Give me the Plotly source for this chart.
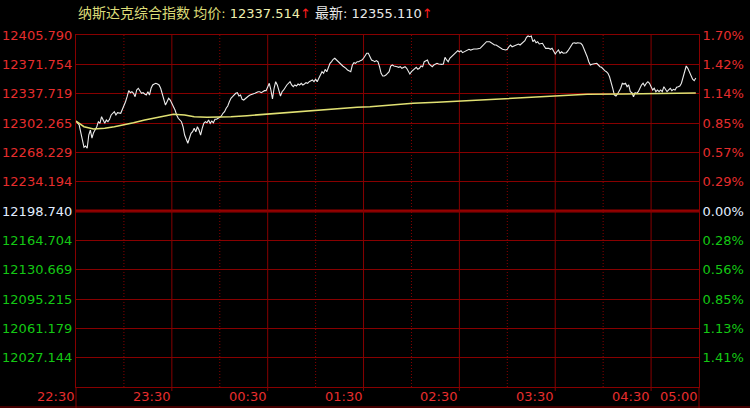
import numpy as np
import plotly.graph_objects as go

# ---------------- data ----------------
title_name = "纳斯达克综合指数"
prev_close = 12198.740
top_value = 12405.790
avg_last = 12337.514
price_last = 12355.110

time_labels = ["22:30", "23:30", "00:30", "01:30", "02:30", "03:30", "04:30", "05:00"]
time_label_pos = [0, 60, 120, 180, 240, 300, 360, 390]
hour_pos = [30, 90, 150, 210, 270, 330]

price_tick_labels = ["12405.790", "12371.754", "12337.719", "12302.265", "12268.229", "12234.194",
                     "12198.740", "12164.704", "12130.669", "12095.215", "12061.179", "12027.144", ""]
pct_tick_labels = ["1.70%", "1.42%", "1.14%", "0.85%", "0.57%", "0.29%",
                   "0.00%", "0.28%", "0.56%", "0.85%", "1.13%", "1.41%", ""]

# minutes since 22:30
minutes = [
    0, 2, 4, 5, 6, 7, 8, 9, 10, 11,
    13, 14, 15, 16, 18, 19, 20, 21, 22, 23,
    24, 25, 26, 28, 29, 30, 31, 32, 33, 34,
    35, 36, 37, 38, 39, 41, 42, 43, 44, 45,
    46, 47, 48, 49, 50, 51, 52, 53, 54, 55,
    56, 57, 58, 59, 60, 61, 62, 63, 64, 66,
    67, 68, 69, 70, 71, 72, 73, 74, 75, 76,
    77, 78, 79, 80, 81, 82, 83, 84, 85, 86,
    87, 88, 90, 91, 92, 93, 94, 95, 96, 97,
    98, 99, 100, 101, 102, 103, 104, 105, 106, 107,
    108, 109, 111, 112, 114, 115, 116, 117, 118, 119,
    120, 121, 122, 123, 124, 125, 126, 127, 128, 129,
    130, 132, 134, 135, 136, 137, 138, 139, 140, 141,
    142, 143, 144, 145, 146, 148, 149, 150, 151, 152,
    153, 154, 155, 156, 157, 158, 159, 160, 161, 162,
    163, 165, 167, 169, 170, 172, 173, 174, 175, 176,
    177, 178, 179, 180, 181, 182, 183, 184, 185, 186,
    187, 188, 189, 190, 191, 192, 193, 194, 196, 197,
    198, 199, 200, 201, 202, 203, 204, 205, 206, 207,
    208, 209, 210, 211, 212, 213, 214, 215, 216, 217,
    218, 220, 221, 222, 223, 224, 225, 226, 227, 228,
    229, 230, 231, 232, 233, 234, 235, 236, 237, 238,
    239, 240, 241, 242, 244, 245, 246, 247, 248, 249,
    251, 253, 254, 255, 256, 257, 259, 260, 261, 262,
    263, 264, 265, 266, 267, 269, 270, 271, 272, 273,
    274, 275, 276, 277, 278, 279, 280, 281, 282, 283,
    284, 285, 286, 287, 288, 289, 290, 292, 293, 294,
    296, 297, 298, 299, 300, 301, 302, 303, 304, 305,
    307, 308, 309, 310, 311, 312, 313, 314, 316, 317,
    318, 319, 320, 321, 322, 323, 324, 325, 326, 327,
    328, 329, 330, 331, 332, 333, 334, 335, 336, 337,
    338, 339, 341, 342, 343, 344, 345, 346, 347, 348,
    349, 350, 351, 352, 353, 354, 355, 356, 357, 358,
    359, 360, 361, 362, 363, 364, 365, 366, 367, 368,
    369, 370, 371, 372, 373, 374, 375, 376, 377, 378,
    379, 380, 381, 382, 383, 384, 385, 386, 387, 388,
]

price = [
    12304.6, 12299.9, 12282.3, 12273.7, 12275.2, 12272.5, 12288.1, 12294.0, 12284.6, 12290.9,
    12297.9, 12303.8, 12301.9, 12309.7, 12301.9, 12305.8, 12303.8, 12306.6, 12311.7, 12313.7,
    12315.6, 12311.7, 12314.4, 12313.7, 12317.6, 12321.4, 12327.3, 12333.2, 12340.3, 12337.9,
    12339.1, 12337.2, 12333.2, 12341.1, 12343.1, 12337.2, 12337.9, 12336.4, 12335.2, 12339.1,
    12335.2, 12343.1, 12347.0, 12348.1, 12349.0, 12348.1, 12347.0, 12343.1, 12337.2, 12331.3,
    12323.4, 12327.3, 12331.3, 12329.3, 12325.4, 12321.4, 12317.6, 12311.7, 12307.8, 12303.8,
    12297.9, 12288.1, 12282.3, 12278.4, 12284.3, 12290.1, 12292.0, 12296.0, 12292.0, 12297.9,
    12294.0, 12288.1, 12296.0, 12301.9, 12303.8, 12302.6, 12305.8, 12301.9, 12304.6, 12302.6,
    12306.6, 12306.6, 12309.0, 12310.5, 12313.7, 12315.6, 12319.6, 12322.3, 12327.3, 12331.3,
    12333.2, 12335.2, 12337.2, 12337.9, 12334.0, 12335.2, 12330.1, 12329.3, 12331.3, 12333.2,
    12334.0, 12335.2, 12337.2, 12337.2, 12339.1, 12339.1, 12337.9, 12339.1, 12340.3, 12340.3,
    12345.0, 12349.0, 12341.1, 12330.5, 12343.1, 12350.9, 12347.0, 12339.1, 12334.0, 12339.1,
    12341.1, 12347.0, 12350.9, 12347.0, 12345.0, 12347.0, 12345.8, 12348.1, 12347.0, 12349.0,
    12347.0, 12348.1, 12349.7, 12349.0, 12350.9, 12352.8, 12350.9, 12353.7, 12350.9, 12354.8,
    12358.7, 12362.6, 12360.7, 12365.4, 12362.6, 12368.5, 12372.5, 12374.4, 12377.2, 12378.4,
    12376.4, 12372.5, 12369.3, 12366.6, 12364.6, 12362.6, 12370.5, 12373.2, 12372.5, 12374.4,
    12374.4, 12375.6, 12376.4, 12378.4, 12382.3, 12384.3, 12384.3, 12380.3, 12376.4, 12375.6,
    12374.4, 12375.6, 12374.4, 12368.5, 12360.7, 12357.6, 12357.6, 12358.7, 12362.6, 12369.3,
    12370.5, 12369.3, 12369.3, 12368.5, 12367.8, 12368.5, 12366.6, 12367.8, 12368.5, 12366.6,
    12362.6, 12359.9, 12362.6, 12364.6, 12366.6, 12367.8, 12365.4, 12366.6, 12369.3, 12368.5,
    12374.4, 12376.4, 12371.7, 12370.5, 12368.5, 12370.5, 12371.3, 12372.5, 12371.7, 12371.3,
    12371.3, 12371.7, 12379.5, 12376.4, 12374.4, 12378.4, 12380.3, 12382.3, 12383.4, 12386.1,
    12387.3, 12386.1, 12387.3, 12385.0, 12387.3, 12388.1, 12389.0, 12388.1, 12389.0, 12389.3,
    12389.3, 12390.1, 12392.0, 12394.0, 12396.0, 12397.9, 12397.9, 12396.7, 12395.2, 12394.0,
    12394.0, 12392.8, 12392.0, 12390.1, 12389.0, 12388.1, 12389.0, 12392.0, 12394.0, 12392.0,
    12392.8, 12392.8, 12394.0, 12395.2, 12394.0, 12396.0, 12397.9, 12399.1, 12403.1, 12404.6,
    12403.8, 12404.6, 12397.9, 12399.9, 12396.7, 12397.9, 12395.2, 12396.0, 12392.8, 12390.1,
    12390.1, 12389.0, 12390.1, 12386.1, 12383.4, 12386.1, 12388.1, 12384.3, 12386.1, 12384.3,
    12385.0, 12387.3, 12390.1, 12392.8, 12396.0, 12396.7, 12396.0, 12396.7, 12396.0, 12394.0,
    12390.1, 12386.1, 12380.3, 12374.4, 12370.5, 12371.3, 12371.7, 12371.3, 12372.5, 12370.5,
    12368.5, 12367.8, 12365.4, 12363.8, 12362.6, 12360.7, 12356.7, 12350.9, 12343.1, 12335.2,
    12334.0, 12336.4, 12343.1, 12349.0, 12348.1, 12349.0, 12345.0, 12347.0, 12339.1, 12337.9,
    12333.2, 12337.9, 12337.2, 12339.1, 12343.1, 12347.0, 12349.0, 12345.8, 12349.0, 12350.9,
    12349.0, 12345.0, 12341.1, 12343.1, 12339.1, 12341.1, 12339.1, 12341.1, 12339.1, 12345.0,
    12341.1, 12339.1, 12341.1, 12343.1, 12340.3, 12341.9, 12341.1, 12344.3, 12345.0, 12345.8,
    12349.0, 12356.7, 12364.6, 12369.3, 12366.6, 12362.6, 12358.7, 12353.7, 12352.0, 12355.11,
]

avg_minutes = [0, 5, 11, 18, 24, 30, 36, 43, 49, 55, 61, 68, 74, 82, 91, 97, 107, 118, 128,
               157, 165, 176, 184, 197, 211, 226, 240, 253, 265, 278, 290, 305, 320, 343, 364, 380, 388]
avg_price = [12304.6, 12297.9, 12295.2, 12296.0, 12297.9, 12299.9, 12302.6, 12305.8, 12307.8,
             12310.5, 12312.5, 12311.7, 12309.7, 12309.0, 12309.0, 12309.7, 12310.9, 12312.5,
             12313.7, 12318.4, 12319.1, 12320.7, 12321.4, 12323.4, 12325.4, 12326.6, 12328.1,
             12329.0, 12330.1, 12331.7, 12333.2, 12334.4, 12336.0, 12336.4, 12336.7, 12337.2, 12337.514]

assert len(minutes) == len(price)
assert len(avg_minutes) == len(avg_price)

# ---------------- styling ----------------
FONT = "DejaVu Sans, Noto Sans CJK SC, sans-serif"
GRID = "rgb(135,0,0)"
RED = "rgb(230,45,45)"
GREEN = "rgb(20,200,20)"
WHITE = "rgb(225,238,255)"
PLOT_H = 352.0

bottom_value = 2 * prev_close - top_value
levels = list(np.linspace(top_value, bottom_value, 13))


def colored(labels):
    out = []
    for i, t in enumerate(labels):
        c = RED if i < 6 else (WHITE if i == 6 else GREEN)
        out.append(f'<span style="color:{c}">{t}</span>')
    return out


fig = go.Figure()
fig.add_trace(go.Scatter(x=avg_minutes, y=avg_price, mode="lines",
                         line=dict(color="rgb(225,225,115)", width=1.5),
                         hoverinfo="skip", yaxis="y2"))
fig.add_trace(go.Scatter(x=minutes, y=price, mode="lines",
                         line=dict(color="rgb(235,235,235)", width=1.1),
                         hoverinfo="skip"))

cjk = "font-family:Noto Sans CJK SC;font-size:14px"
title_text = (f'<span style="color:rgb(220,220,120);{cjk}">{title_name}&nbsp;均价</span>'
              f'<span style="color:rgb(220,220,120)">: </span>'
              f'<span style="color:rgb(240,240,175)">{avg_last:.3f}</span>'
              f'<span style="color:rgb(255,30,30)">↑</span> '
              f'<span style="color:rgb(232,232,232);{cjk}">最新</span>'
              f'<span style="color:rgb(232,232,232)">: {price_last:.3f}</span>'
              f'<span style="color:rgb(255,30,30)">↑</span>')

shapes = [
    # previous-close reference line
    dict(type="line", xref="paper", yref="y", x0=0, x1=1, y0=prev_close, y1=prev_close,
         line=dict(color="rgb(150,0,0)", width=3), layer="below"),
    # frame extensions below the plot and bottom frame line
    dict(type="line", xref="paper", yref="paper", x0=0, x1=0, y0=-21 / PLOT_H, y1=0,
         line=dict(color=GRID, width=1)),
    dict(type="line", xref="paper", yref="paper", x0=1, x1=1, y0=-21 / PLOT_H, y1=0,
         line=dict(color=GRID, width=1)),
    dict(type="line", xref="paper", yref="paper", x0=-76 / 623, x1=674 / 623,
         y0=-20 / PLOT_H, y1=-20 / PLOT_H, line=dict(color=GRID, width=1)),
]
for p in time_label_pos[1:-1]:
    shapes.append(dict(type="line", xref="x", yref="paper", x0=p, x1=p, y0=-4 / PLOT_H, y1=1,
                       line=dict(color=GRID, width=1), layer="below"))
for p in hour_pos:
    shapes.append(dict(type="line", xref="x", yref="paper", x0=p, x1=p, y0=0, y1=1,
                       line=dict(color=GRID, width=1, dash="1px,2px"), layer="below"))

annotations = [
    dict(xref="paper", yref="paper", x=0, y=1 + 22.5 / PLOT_H, xanchor="left", yanchor="middle",
         text=title_text, showarrow=False, font=dict(family=FONT, size=13)),
]
for p, t in zip(time_label_pos, time_labels):
    annotations.append(dict(xref="x", yref="paper", x=p, y=-9.8 / PLOT_H, xanchor="right",
                            yanchor="middle", text=t, showarrow=False, xshift=0,
                            font=dict(family=FONT, size=13, color=RED)))

fig.update_layout(
    width=750, height=408,
    margin=dict(l=76, r=51, t=35, b=21, pad=0),
    paper_bgcolor="black", plot_bgcolor="black",
    showlegend=False,
    font=dict(family=FONT, size=13, color=RED),
    xaxis=dict(
        range=[0, 390], showticklabels=False,
        automargin=False, showgrid=False, zeroline=False, ticks="",
        showline=True, linecolor=GRID, linewidth=1, mirror=True,
    ),
    yaxis=dict(
        range=[bottom_value, top_value], tickmode="array", tickvals=levels,
        ticktext=colored(price_tick_labels), tickfont=dict(size=13), automargin=False,
        showgrid=True, gridcolor=GRID, gridwidth=1, zeroline=False, ticks="",
        showline=True, linecolor=GRID, linewidth=1, mirror=True,
    ),
    yaxis2=dict(
        range=[bottom_value, top_value], overlaying="y", side="right", automargin=False,
        tickmode="array", tickvals=levels, ticktext=colored(pct_tick_labels),
        tickfont=dict(size=13), showgrid=False, zeroline=False, ticks="",
        showline=True, linecolor=GRID, linewidth=1,
    ),
    shapes=shapes,
    annotations=annotations,
)

fig.write_html("out.html", config={"displayModeBar": False},
               post_script="document.body.style.margin='0';document.body.style.background='black';")
